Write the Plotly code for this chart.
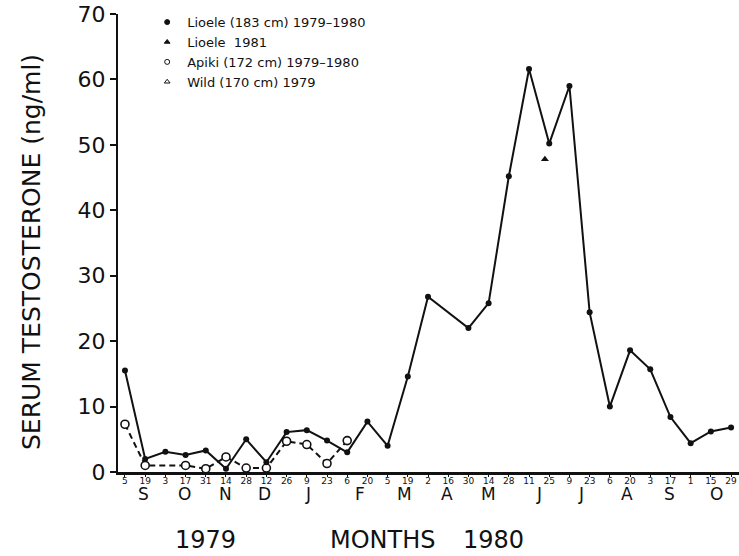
import plotly.graph_objects as go

# ---------------- data ----------------
lioele_dates = ["1979-09-05", "1979-09-19", "1979-10-03", "1979-10-17", "1979-10-31",
                "1979-11-14", "1979-11-28", "1979-12-12", "1979-12-26", "1980-01-09",
                "1980-01-23", "1980-02-06", "1980-02-20", "1980-03-05", "1980-03-19",
                "1980-04-02", "1980-04-30", "1980-05-14", "1980-05-28", "1980-06-11",
                "1980-06-25", "1980-07-09", "1980-07-23", "1980-08-06", "1980-08-20",
                "1980-09-03", "1980-09-17", "1980-10-01", "1980-10-15", "1980-10-29"]
lioele_values = [15.5, 2.0, 3.1, 2.6, 3.3,
                 0.5, 5.0, 1.5, 6.1, 6.4,
                 4.8, 3.0, 7.7, 4.0, 14.6,
                 26.8, 22.0, 25.8, 45.2, 61.6,
                 50.2, 59.0, 24.4, 10.0, 18.6,
                 15.7, 8.4, 4.4, 6.2, 6.8]

lioele81_dates = ["1980-06-22"]
lioele81_values = [47.8]

apiki_dates = ["1979-09-05", "1979-09-19", "1979-10-17", "1979-10-31", "1979-11-14",
               "1979-11-28", "1979-12-12", "1979-12-26", "1980-01-09", "1980-01-23",
               "1980-02-06"]
apiki_values = [7.3, 1.0, 1.0, 0.5, 2.3,
                0.6, 0.6, 4.7, 4.2, 1.3,
                4.8]

wild_dates = []
wild_values = []

tick_dates = ["1979-09-05", "1979-09-19", "1979-10-03", "1979-10-17", "1979-10-31",
              "1979-11-14", "1979-11-28", "1979-12-12", "1979-12-26", "1980-01-09",
              "1980-01-23", "1980-02-06", "1980-02-20", "1980-03-05", "1980-03-19",
              "1980-04-02", "1980-04-16", "1980-04-30", "1980-05-14", "1980-05-28",
              "1980-06-11", "1980-06-25", "1980-07-09", "1980-07-23", "1980-08-06",
              "1980-08-20", "1980-09-03", "1980-09-17", "1980-10-01", "1980-10-15",
              "1980-10-29"]
tick_labels = ["5", "19", "3", "17", "31", "14", "28", "12", "26", "9", "23", "6", "20",
               "5", "19", "2", "16", "30", "14", "28", "11", "25", "9", "23", "6", "20",
               "3", "17", "1", "15", "29"]

month_letters = ["S", "O", "N", "D", "J", "F", "M", "A", "M", "J", "J", "A", "S", "O"]
month_dates = ["1979-09-18", "1979-10-16", "1979-11-14", "1979-12-11", "1980-01-10",
               "1980-02-15", "1980-03-17", "1980-04-15", "1980-05-14", "1980-06-18",
               "1980-07-17", "1980-08-18", "1980-09-16", "1980-10-19"]

y_ticks = [0, 10, 20, 30, 40, 50, 60, 70]

legend_names = ["Lioele (183 cm) 1979\u20131980", "Lioele  1981",
                "Apiki (172 cm) 1979\u20131980", "Wild (170 cm) 1979"]

FONT = "DejaVu Sans"
BLACK = "#111111"

fig = go.Figure()

# main data traces
fig.add_trace(go.Scatter(
    x=apiki_dates, y=apiki_values, mode="lines", showlegend=False,
    line=dict(color=BLACK, width=2, dash="6px,4px"), hoverinfo="skip",
))
fig.add_trace(go.Scatter(
    x=apiki_dates, y=apiki_values, mode="markers", showlegend=False,
    marker=dict(symbol="circle", size=8, color="white", line=dict(width=1.6, color=BLACK)),
))
fig.add_trace(go.Scatter(
    x=lioele_dates, y=lioele_values, mode="lines+markers", showlegend=False,
    line=dict(color=BLACK, width=2),
    marker=dict(symbol="circle", size=6, color=BLACK),
))
fig.add_trace(go.Scatter(
    x=lioele81_dates, y=lioele81_values, mode="markers", showlegend=False,
    marker=dict(symbol="triangle-up", size=7, color=BLACK),
))
fig.add_trace(go.Scatter(
    x=wild_dates, y=wild_values, mode="markers", showlegend=False,
    marker=dict(symbol="triangle-up-open", size=7, color=BLACK),
))

# legend-only entries (markers only)
legend_symbols = ["circle", "triangle-up", "circle-open", "triangle-up-open"]
for name, sym in zip(legend_names, legend_symbols):
    fig.add_trace(go.Scatter(
        x=[None], y=[None], mode="markers", name=name,
        marker=dict(symbol=sym, size=5, color=BLACK, line=dict(width=1, color=BLACK)),
    ))

annotations = []
for letter, d in zip(month_letters, month_dates):
    annotations.append(dict(
        x=d, xref="x", y=-0.048, yref="paper", text=letter, showarrow=False,
        xanchor="center", yanchor="middle", font=dict(family=FONT, size=17, color=BLACK),
    ))

plot_left, plot_w = 118, 621
plot_top, plot_h = 14, 458


def px_to_paper_x(px):
    return (px - plot_left) / plot_w


def py_to_paper_y(py):
    return (plot_top + plot_h - py) / plot_h


for txt, px in [("1979", 205), ("MONTHS", 383), ("1980", 493)]:
    annotations.append(dict(
        x=px_to_paper_x(px), xref="paper", y=py_to_paper_y(540), yref="paper",
        text=txt, showarrow=False, xanchor="center", yanchor="middle",
        font=dict(family=FONT, size=24, color=BLACK),
    ))

annotations.append(dict(
    x=px_to_paper_x(31), xref="paper", y=py_to_paper_y(252), yref="paper",
    text="SERUM TESTOSTERONE (ng/ml)", textangle=-90, showarrow=False,
    xanchor="center", yanchor="middle", font=dict(family=FONT, size=25, color=BLACK),
))

fig.update_layout(
    width=739, height=556,
    margin=dict(l=plot_left, r=739 - plot_left - plot_w, t=plot_top, b=556 - plot_top - plot_h),
    paper_bgcolor="white", plot_bgcolor="white",
    font=dict(family=FONT, color=BLACK),
    showlegend=True,
    legend=dict(
        x=0.047, y=1.015, xanchor="left", yanchor="top",
        bgcolor="rgba(0,0,0,0)", font=dict(family=FONT, size=13, color=BLACK),
        tracegroupgap=0, itemwidth=30,
    ),
    annotations=annotations,
    xaxis=dict(
        type="date", range=["1979-08-31 04:00", "1980-11-03 12:00"],
        tickmode="array", tickvals=tick_dates, ticktext=tick_labels,
        tickfont=dict(family=FONT, size=9, color=BLACK),
        ticks="outside", ticklen=2, tickwidth=1, tickcolor=BLACK,
        ticklabelstandoff=-4,
        showline=True, linecolor=BLACK, linewidth=2.5,
        showgrid=False, zeroline=False, tickangle=0,
    ),
    yaxis=dict(
        range=[0, 70], tickmode="array", tickvals=y_ticks,
        tickfont=dict(family=FONT, size=22, color=BLACK),
        ticks="outside", ticklen=6, tickwidth=1.5, tickcolor=BLACK,
        showline=True, linecolor=BLACK, linewidth=2,
        showgrid=False, zeroline=False,
    ),
)

fig.write_html("out.html", config={"displayModeBar": False},
               post_script="document.body.style.margin='0px';")
